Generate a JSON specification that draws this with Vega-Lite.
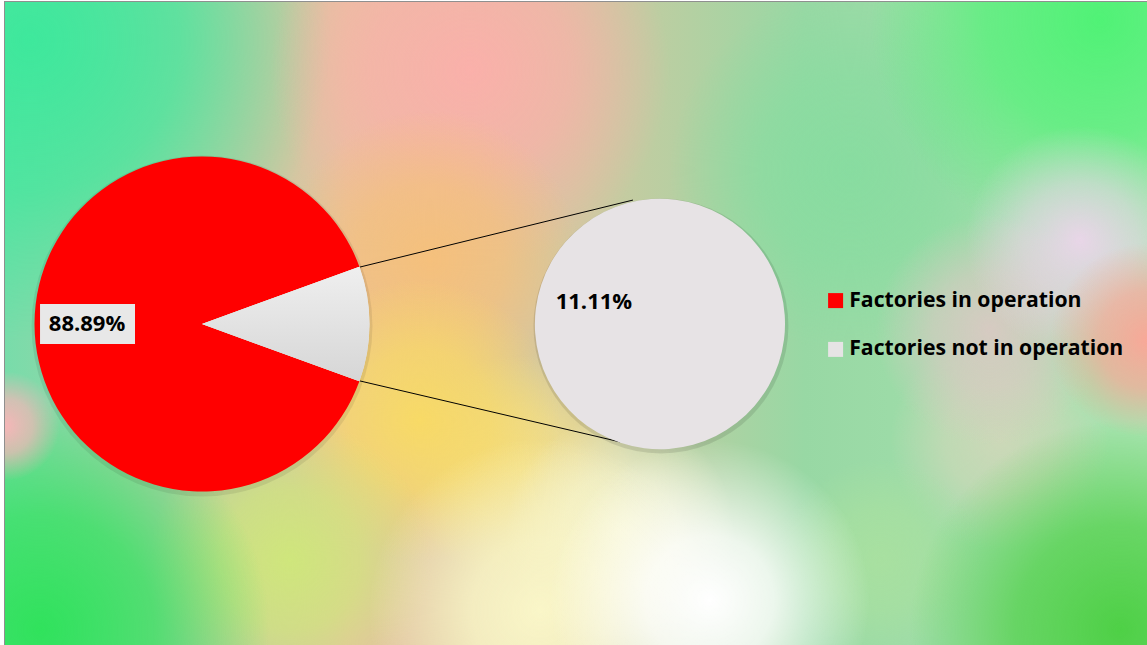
{
  "$schema": "https://vega.github.io/schema/vega-lite/v6.json",
  "width": 1142,
  "height": 643,
  "autosize": {"type": "none"},
  "padding": {"left": 5, "top": 2, "right": 0, "bottom": 0},
  "background": "white",
  "config": {
    "view": {"stroke": "#8f8f8f", "strokeWidth": 2},
    "font": "Open Sans"
  },
  "datasets": {
    "factories": [
      {"status": "Factories in operation", "share": 0.8889},
      {"status": "Factories not in operation", "share": 0.1111}
    ],
    "breakout": [
      {"status": "Factories not in operation", "share": 0.1111}
    ],
    "connectors": [
      {"edge": "upper", "x": 0.943, "y": 0.340, "x2": 2.573, "y2": 0.740},
      {"edge": "lower", "x": 0.943, "y": -0.340, "x2": 2.496, "y2": -0.704}
    ]
  },
  "resolve": {"scale": {"theta": "independent"}},
  "layer": [
    {"data": {"values": [{}]}, "mark": {"type": "rect", "x": 0, "y": 0, "x2": "width", "y2": "height",
      "fill": {"gradient": "linear", "x1": 0, "y1": 0, "x2": 1, "y2": 0, "stops": [
        {"offset": 0, "color": "#78dcaa"}, {"offset": 0.3, "color": "#e6c2a0"}, {"offset": 0.5, "color": "#d0c8a0"}, {"offset": 0.7, "color": "#98d8a4"}, {"offset": 1, "color": "#a8e4b0"}]}}, "encoding": {}},
    {"data": {"values": [{}]}, "mark": {"type": "rect", "x": 0, "y": 0, "x2": "width", "y2": "height",
      "fill": {"gradient": "radial", "x1": 0.7399, "y1": 0.3656, "r1": 0, "x2": 0.7399, "y2": 0.3656, "r2": 0.158, "stops": [
        {"offset": 0, "color": "rgba(136,220,160,1)"}, {"offset": 0.5, "color": "rgba(136,220,160,0.7)"}, {"offset": 1, "color": "rgba(136,220,160,0)"}]}}, "encoding": {}},
    {"data": {"values": [{}]}, "mark": {"type": "rect", "x": 0, "y": 0, "x2": "width", "y2": "height",
      "fill": {"gradient": "radial", "x1": 0.8713, "y1": 0.602, "r1": 0, "x2": 0.8713, "y2": 0.602, "r2": 0.096, "stops": [
        {"offset": 0, "color": "rgba(204,216,184,1)"}, {"offset": 0.5, "color": "rgba(204,216,184,0.7)"}, {"offset": 1, "color": "rgba(204,216,184,0)"}]}}, "encoding": {}},
    {"data": {"values": [{}]}, "mark": {"type": "rect", "x": 0, "y": 0, "x2": "width", "y2": "height",
      "fill": {"gradient": "radial", "x1": 0.8625, "y1": 0.5057, "r1": 0, "x2": 0.8625, "y2": 0.5057, "r2": 0.1, "stops": [
        {"offset": 0, "color": "rgba(220,200,196,0.9)"}, {"offset": 0.5, "color": "rgba(220,200,196,0.6)"}, {"offset": 1, "color": "rgba(220,200,196,0)"}]}}, "encoding": {}},
    {"data": {"values": [{}]}, "mark": {"type": "rect", "x": 0, "y": 0, "x2": "width", "y2": "height",
      "fill": {"gradient": "radial", "x1": 0.7662, "y1": 0.7071, "r1": 0, "x2": 0.7662, "y2": 0.7071, "r2": 0.088, "stops": [
        {"offset": 0, "color": "rgba(168,224,160,1)"}, {"offset": 0.5, "color": "rgba(168,224,160,0.7)"}, {"offset": 1, "color": "rgba(168,224,160,0)"}]}}, "encoding": {}},
    {"data": {"values": [{}]}, "mark": {"type": "rect", "x": 0, "y": 0, "x2": "width", "y2": "height",
      "fill": {"gradient": "radial", "x1": 0.0219, "y1": 0.2518, "r1": 0, "x2": 0.0219, "y2": 0.2518, "r2": 0.263, "stops": [
        {"offset": 0, "color": "rgba(62,232,156,1)"}, {"offset": 0.5, "color": "rgba(62,232,156,0.7)"}, {"offset": 1, "color": "rgba(62,232,156,0)"}]}}, "encoding": {}},
    {"data": {"values": [{}]}, "mark": {"type": "rect", "x": 0, "y": 0, "x2": "width", "y2": "height",
      "fill": {"gradient": "radial", "x1": 0.4072, "y1": 0.278, "r1": 0, "x2": 0.4072, "y2": 0.278, "r2": 0.175, "stops": [
        {"offset": 0, "color": "rgba(250,176,170,1)"}, {"offset": 0.5, "color": "rgba(250,176,170,0.7)"}, {"offset": 1, "color": "rgba(250,176,170,0)"}]}}, "encoding": {}},
    {"data": {"values": [{}]}, "mark": {"type": "rect", "x": 0, "y": 0, "x2": "width", "y2": "height",
      "fill": {"gradient": "radial", "x1": 0.3722, "y1": 0.4444, "r1": 0, "x2": 0.3722, "y2": 0.4444, "r2": 0.131, "stops": [
        {"offset": 0, "color": "rgba(245,192,124,1)"}, {"offset": 0.5, "color": "rgba(245,192,124,0.7)"}, {"offset": 1, "color": "rgba(245,192,124,0)"}]}}, "encoding": {}},
    {"data": {"values": [{}]}, "mark": {"type": "rect", "x": 0, "y": 0, "x2": "width", "y2": "height",
      "fill": {"gradient": "radial", "x1": 0.451, "y1": 0.6283, "r1": 0, "x2": 0.451, "y2": 0.6283, "r2": 0.1, "stops": [
        {"offset": 0, "color": "rgba(242,224,140,1)"}, {"offset": 0.5, "color": "rgba(242,224,140,0.7)"}, {"offset": 1, "color": "rgba(242,224,140,0)"}]}}, "encoding": {}},
    {"data": {"values": [{}]}, "mark": {"type": "rect", "x": 0, "y": 0, "x2": "width", "y2": "height",
      "fill": {"gradient": "radial", "x1": 0.3634, "y1": 0.5845, "r1": 0, "x2": 0.3634, "y2": 0.5845, "r2": 0.123, "stops": [
        {"offset": 0, "color": "rgba(248,218,102,1)"}, {"offset": 0.5, "color": "rgba(248,218,102,0.7)"}, {"offset": 1, "color": "rgba(248,218,102,0)"}]}}, "encoding": {}},
    {"data": {"values": [{}]}, "mark": {"type": "rect", "x": 0, "y": 0, "x2": "width", "y2": "height",
      "fill": {"gradient": "radial", "x1": 0.2496, "y1": 0.7071, "r1": 0, "x2": 0.2496, "y2": 0.7071, "r2": 0.123, "stops": [
        {"offset": 0, "color": "rgba(207,230,124,1)"}, {"offset": 0.5, "color": "rgba(207,230,124,0.7)"}, {"offset": 1, "color": "rgba(207,230,124,0)"}]}}, "encoding": {}},
    {"data": {"values": [{}]}, "mark": {"type": "rect", "x": 0, "y": 0, "x2": "width", "y2": "height",
      "fill": {"gradient": "radial", "x1": 0.5385, "y1": 0.6808, "r1": 0, "x2": 0.5385, "y2": 0.6808, "r2": 0.1, "stops": [
        {"offset": 0, "color": "rgba(244,244,208,1)"}, {"offset": 0.5, "color": "rgba(244,244,208,0.7)"}, {"offset": 1, "color": "rgba(244,244,208,0)"}]}}, "encoding": {}},
    {"data": {"values": [{}]}, "mark": {"type": "rect", "x": 0, "y": 0, "x2": "width", "y2": "height",
      "fill": {"gradient": "radial", "x1": 0.4685, "y1": 0.7509, "r1": 0, "x2": 0.4685, "y2": 0.7509, "r2": 0.15, "stops": [
        {"offset": 0, "color": "rgba(250,246,200,1)"}, {"offset": 0.4, "color": "rgba(250,246,200,0.8)"}, {"offset": 1, "color": "rgba(250,246,200,0)"}]}}, "encoding": {}},
    {"data": {"values": [{}]}, "mark": {"type": "rect", "x": 0, "y": 0, "x2": "width", "y2": "height",
      "fill": {"gradient": "radial", "x1": 0.6173, "y1": 0.7421, "r1": 0, "x2": 0.6173, "y2": 0.7421, "r2": 0.14, "stops": [
        {"offset": 0, "color": "rgba(255,255,255,1)"}, {"offset": 0.4, "color": "rgba(255,255,255,0.8)"}, {"offset": 1, "color": "rgba(255,255,255,0)"}]}}, "encoding": {}},
    {"data": {"values": [{}]}, "mark": {"type": "rect", "x": 0, "y": 0, "x2": "width", "y2": "height",
      "fill": {"gradient": "radial", "x1": 0.0306, "y1": 0.7684, "r1": 0, "x2": 0.0306, "y2": 0.7684, "r2": 0.201, "stops": [
        {"offset": 0, "color": "rgba(48,226,92,1)"}, {"offset": 0.5, "color": "rgba(48,226,92,0.7)"}, {"offset": 1, "color": "rgba(48,226,92,0)"}]}}, "encoding": {}},
    {"data": {"values": [{}]}, "mark": {"type": "rect", "x": 0, "y": 0, "x2": "width", "y2": "height",
      "fill": {"gradient": "radial", "x1": 0.9764, "y1": 0.7684, "r1": 0, "x2": 0.9764, "y2": 0.7684, "r2": 0.184, "stops": [
        {"offset": 0, "color": "rgba(78,208,70,1)"}, {"offset": 0.5, "color": "rgba(78,208,70,0.7)"}, {"offset": 1, "color": "rgba(78,208,70,0)"}]}}, "encoding": {}},
    {"data": {"values": [{}]}, "mark": {"type": "rect", "x": 0, "y": 0, "x2": "width", "y2": "height",
      "fill": {"gradient": "radial", "x1": 0.9588, "y1": 0.2342, "r1": 0, "x2": 0.9588, "y2": 0.2342, "r2": 0.201, "stops": [
        {"offset": 0, "color": "rgba(80,242,118,1)"}, {"offset": 0.5, "color": "rgba(80,242,118,0.7)"}, {"offset": 1, "color": "rgba(80,242,118,0)"}]}}, "encoding": {}},
    {"data": {"values": [{}]}, "mark": {"type": "rect", "x": 0, "y": 0, "x2": "width", "y2": "height",
      "fill": {"gradient": "radial", "x1": 0.9413, "y1": 0.4269, "r1": 0, "x2": 0.9413, "y2": 0.4269, "r2": 0.1, "stops": [
        {"offset": 0, "color": "rgba(240,212,238,0.9)"}, {"offset": 0.5, "color": "rgba(240,212,238,0.55)"}, {"offset": 1, "color": "rgba(240,212,238,0)"}]}}, "encoding": {}},
    {"data": {"values": [{}]}, "mark": {"type": "rect", "x": 0, "y": 0, "x2": "width", "y2": "height",
      "fill": {"gradient": "radial", "x1": 1.0, "y1": 0.5145, "r1": 0, "x2": 1.0, "y2": 0.5145, "r2": 0.085, "stops": [
        {"offset": 0, "color": "rgba(248,168,152,1)"}, {"offset": 0.5, "color": "rgba(248,168,152,0.7)"}, {"offset": 1, "color": "rgba(248,168,152,0)"}]}}, "encoding": {}},
    {"data": {"values": [{}]}, "mark": {"type": "rect", "x": 0, "y": 0, "x2": "width", "y2": "height",
      "fill": {"gradient": "radial", "x1": 0.0, "y1": 0.5898, "r1": 0, "x2": 0.0, "y2": 0.5898, "r2": 0.048, "stops": [
        {"offset": 0, "color": "rgba(246,182,184,1)"}, {"offset": 0.5, "color": "rgba(246,182,184,0.7)"}, {"offset": 1, "color": "rgba(246,182,184,0)"}]}}, "encoding": {}},
    {
      "data": {"name": "connectors"},
      "mark": {"type": "rule", "color": "#000000", "strokeWidth": 1},
      "encoding": {
        "x": {"field": "x", "type": "quantitative", "scale": {"domain": [-1.17612, 5.64179], "nice": false, "zero": false}, "axis": null},
        "y": {"field": "y", "type": "quantitative", "scale": {"domain": [-1.91642, 1.92239], "nice": false, "zero": false}, "axis": null},
        "x2": {"field": "x2"},
        "y2": {"field": "y2"}
      }
    },
    {
      "data": {"values": [{}]},
      "mark": {"type": "arc", "outerRadius": 170.5, "theta": 0, "theta2": 6.2832, "fill": "#000000", "opacity": 0.08, "yOffset": 2},
      "encoding": {
        "x": {"datum": 0, "type": "quantitative", "scale": {"domain": [-1.17612, 5.64179], "nice": false, "zero": false}, "axis": null},
        "y": {"datum": 0, "type": "quantitative", "scale": {"domain": [-1.91642, 1.92239], "nice": false, "zero": false}, "axis": null}
      }
    },
    {
      "data": {"values": [{}]},
      "mark": {"type": "arc", "outerRadius": 127.5, "theta": 0, "theta2": 6.2832, "fill": "#000000", "opacity": 0.1, "yOffset": 2, "xOffset": 1},
      "encoding": {
        "x": {"datum": 2.734, "type": "quantitative", "scale": {"domain": [-1.17612, 5.64179], "nice": false, "zero": false}, "axis": null},
        "y": {"datum": 0, "type": "quantitative", "scale": {"domain": [-1.91642, 1.92239], "nice": false, "zero": false}, "axis": null}
      }
    },
    {
      "data": {"name": "factories"},
      "layer": [
        {
          "mark": {"type": "arc", "outerRadius": 167.5},
          "encoding": {
            "x": {"datum": 0, "type": "quantitative", "scale": {"domain": [-1.17612, 5.64179], "nice": false, "zero": false}, "axis": null},
            "y": {"datum": 0, "type": "quantitative", "scale": {"domain": [-1.91642, 1.92239], "nice": false, "zero": false}, "axis": null},
            "theta": {"field": "share", "type": "quantitative", "stack": true, "scale": {"range": [1.91986, 8.20305]}},
            "order": {"field": "status", "type": "ordinal", "sort": "ascending"},
            "color": {
              "field": "status", "type": "nominal",
              "scale": {"domain": ["Factories in operation", "Factories not in operation"], "range": ["#ff0000", "#e6e4e5"]},
              "legend": {
                "orient": "none", "legendX": 820, "legendY": 288, "title": null,
                "symbolType": "square", "symbolSize": 225, "symbolStrokeWidth": 0, "symbolOpacity": 1,
                "labelFont": "Open Sans", "labelFontWeight": "bold", "labelFontSize": 21.2, "labelColor": "#000000",
                "labelLimit": 0, "rowPadding": 26.8, "labelOffset": 3, "padding": 0
              }
            }
          }
        },
        {
          "mark": {"type": "arc", "outerRadius": 167.5,
            "fill": {"gradient": "linear", "x1": 0, "y1": 0, "x2": 0, "y2": 1, "stops": [
              {"offset": 0, "color": "#efefef"}, {"offset": 1, "color": "#d6d6d6"}]}},
          "encoding": {
            "x": {"datum": 0, "type": "quantitative", "scale": {"domain": [-1.17612, 5.64179], "nice": false, "zero": false}, "axis": null},
            "y": {"datum": 0, "type": "quantitative", "scale": {"domain": [-1.91642, 1.92239], "nice": false, "zero": false}, "axis": null},
            "theta": {"field": "share", "type": "quantitative", "stack": true, "scale": {"range": [1.91986, 8.20305]}},
            "order": {"field": "status", "type": "ordinal", "sort": "ascending"},
            "detail": {"field": "status", "type": "nominal"},
            "opacity": {"condition": {"test": "datum.status === 'Factories not in operation'", "value": 1}, "value": 0}
          }
        },
        {
          "data": {"values": [{}]},
          "mark": {"type": "rect", "fill": "#e8e8e8"},
          "encoding": {
            "x": {"datum": -0.967, "type": "quantitative", "scale": {"domain": [-1.17612, 5.64179], "nice": false, "zero": false}, "axis": null},
            "x2": {"datum": -0.400},
            "y": {"datum": 0.119, "type": "quantitative", "scale": {"domain": [-1.91642, 1.92239], "nice": false, "zero": false}, "axis": null},
            "y2": {"datum": -0.119}
          }
        },
        {
          "mark": {"type": "text", "radius": 115, "font": "Open Sans", "fontSize": 22, "fontWeight": "bold", "color": "#000000", "align": "center", "baseline": "middle"},
          "encoding": {
            "x": {"datum": 0, "type": "quantitative", "scale": {"domain": [-1.17612, 5.64179], "nice": false, "zero": false}, "axis": null},
            "y": {"datum": 0, "type": "quantitative", "scale": {"domain": [-1.91642, 1.92239], "nice": false, "zero": false}, "axis": null},
            "theta": {"field": "share", "type": "quantitative", "stack": true, "scale": {"range": [1.91986, 8.20305]}},
            "order": {"field": "status", "type": "ordinal", "sort": "ascending"},
            "detail": {"field": "status", "type": "nominal"},
            "text": {"field": "share", "type": "quantitative", "format": ".2%"},
            "opacity": {"condition": {"test": "datum.status === 'Factories in operation'", "value": 1}, "value": 0}
          }
        }
      ]
    },
    {
      "data": {"name": "breakout"},
      "layer": [
        {
          "mark": {"type": "arc", "outerRadius": 125, "fill": "#e7e3e5"},
          "encoding": {
            "x": {"datum": 2.734, "type": "quantitative", "scale": {"domain": [-1.17612, 5.64179], "nice": false, "zero": false}, "axis": null},
            "y": {"datum": 0, "type": "quantitative", "scale": {"domain": [-1.91642, 1.92239], "nice": false, "zero": false}, "axis": null},
            "theta": {"field": "share", "type": "quantitative", "stack": true, "scale": {"range": [1.89194, 8.17513]}}
          }
        },
        {
          "mark": {"type": "text", "radius": 69.6, "font": "Open Sans", "fontSize": 22, "fontWeight": "bold", "color": "#000000", "align": "center", "baseline": "middle"},
          "encoding": {
            "x": {"datum": 2.734, "type": "quantitative", "scale": {"domain": [-1.17612, 5.64179], "nice": false, "zero": false}, "axis": null},
            "y": {"datum": 0, "type": "quantitative", "scale": {"domain": [-1.91642, 1.92239], "nice": false, "zero": false}, "axis": null},
            "theta": {"field": "share", "type": "quantitative", "stack": true, "scale": {"range": [1.89194, 8.17513]}},
            "text": {"field": "share", "type": "quantitative", "format": ".2%"}
          }
        }
      ]
    }
  ]
}
